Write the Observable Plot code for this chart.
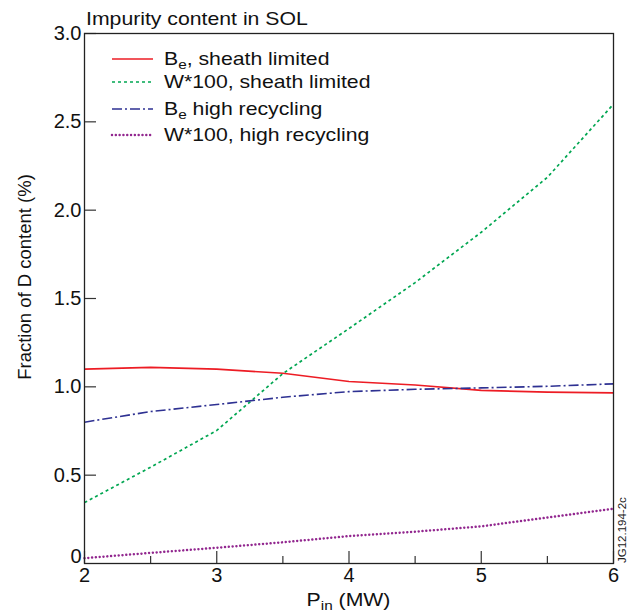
<!DOCTYPE html>
<html>
<head>
<meta charset="utf-8">
<script src="https://cdn.jsdelivr.net/npm/d3@7"></script>
<script src="https://cdn.jsdelivr.net/npm/@observablehq/plot@0.6"></script>
<style>
  html, body { margin: 0; padding: 0; background: #fff; }
  #chart { width: 627px; height: 613px; }
</style>
</head>
<body>
<div id="chart"></div>
<script>
// ---- data ----
const pin = [2, 2.5, 3, 3.5, 4, 4.5, 5, 5.5, 6];
const beSheath   = [1.10, 1.11, 1.10, 1.077, 1.03, 1.01, 0.98, 0.97, 0.966];
const wSheath    = [0.345, 0.545, 0.753, 1.075, 1.33, 1.59, 1.875, 2.186, 2.60];
const beRecycl   = [0.80, 0.86, 0.90, 0.941, 0.973, 0.986, 0.994, 1.003, 1.017];
const wRecycl    = [0.03, 0.06, 0.089, 0.12, 0.155, 0.18, 0.21, 0.26, 0.31];
const seriesNames = [
  ["B", "e", ", sheath limited"],
  ["W*100, sheath limited", "", ""],
  ["B", "e", " high recycling"],
  ["W*100, high recycling", "", ""]
];
const xMajorTicks = [2, 3, 4, 5, 6];
const xMinorTicks = [2.5, 3.5, 4.5, 5.5];
const yTicks = [0.5, 1.0, 1.5, 2.0, 2.5, 3.0];
const yZeroTick = [0];
const titleText = "Impurity content in SOL";
const yLabelText = "Fraction of D content (%)";
const xLabelParts = ["P", "in", " (MW)"];
const stampText = "JG12.194-2c";

// ---- styles ----
const styles = [
  {stroke: "#ed1c24", strokeWidth: 1.6, dash: null, cap: "butt"},
  {stroke: "#00a651", strokeWidth: 1.7, dash: "3,3", cap: "butt"},
  {stroke: "#2e3192", strokeWidth: 1.6, dash: "10,3,2,3", cap: "butt"},
  {stroke: "#92278f", strokeWidth: 2.5, dash: "0.01,3.8", cap: "round"}
];
const allSeries = [beSheath, wSheath, beRecycl, wRecycl];

const W = 627, H = 613;
const mL = 84, mR = 14, mT = 33, mB = 50;
const innerW = W - mL - mR, innerH = H - mT - mB;
const FONT = "'Liberation Sans', Arial, Helvetica, sans-serif";
const SX = 1.18; // horizontal stretch of the reference lettering

const lineMarks = allSeries.map((vals, i) => {
  const rows = pin.map((p, j) => ({x: p, y: vals[j]}));
  return Plot.line(rows, {
    x: "x", y: "y",
    stroke: styles[i].stroke,
    strokeWidth: styles[i].strokeWidth,
    strokeDasharray: styles[i].dash,
    strokeLinecap: styles[i].cap
  });
});

const chart = Plot.plot({
  width: W, height: H,
  marginLeft: mL, marginRight: mR, marginTop: mT, marginBottom: mB,
  style: {fontFamily: FONT, fontSize: "20px", color: "#111", background: "#fff"},
  x: {domain: [2, 6]},
  y: {domain: [0, 3]},
  marks: [
    ...lineMarks,
    Plot.ruleX(xMajorTicks, {x: d => d, insetTop: innerH - 12, stroke: "#333", strokeWidth: 1.2}),
    Plot.ruleX(xMinorTicks, {x: d => d, insetTop: innerH - 7, stroke: "#333", strokeWidth: 1.2}),
    Plot.ruleY(yTicks, {y: d => d, insetRight: innerW - 12, stroke: "#333", strokeWidth: 1.2}),
    Plot.axisX({ticks: xMajorTicks, tickSize: 0, tickPadding: 4, label: null, tickFormat: d => String(d), fontSize: 20}),
    Plot.axisY({ticks: yTicks, tickSize: 0, tickPadding: 3, label: null, tickFormat: d3.format(".1f"), fontSize: 20}),
    Plot.axisY({ticks: yZeroTick, tickSize: 0, tickPadding: 3, label: null, tickFormat: d => "0", dy: -7, fontSize: 20}),
    Plot.frame({stroke: "#222", strokeWidth: 1.3})
  ]
});

document.getElementById("chart").appendChild(chart);

// ---- annotations: title, axis labels with subscripts, legend ----
const svg = d3.select(chart);
const ann = svg.append("g").attr("font-family", FONT).attr("fill", "#111").attr("text-anchor", "start");

ann.append("text")
  .attr("transform", `translate(86,25) scale(${SX},1)`)
  .attr("text-anchor", "start")
  .attr("font-size", 18)
  .text(titleText);

ann.append("text")
  .attr("transform", "translate(31,277) rotate(-90)")
  .attr("text-anchor", "middle")
  .attr("font-size", 18.5)
  .text(yLabelText);

const xl = ann.append("text")
  .attr("transform", `translate(${mL + innerW / 2},606) scale(${SX},1)`)
  .attr("text-anchor", "middle")
  .attr("font-size", 18);
xl.append("tspan").text(xLabelParts[0]);
xl.append("tspan").attr("dy", 4).attr("font-size", 13).text(xLabelParts[1]);
xl.append("tspan").attr("dy", -4).text(xLabelParts[2]);

ann.append("text")
  .attr("transform", `translate(626,${mT + innerH}) rotate(-90)`)
  .attr("text-anchor", "start")
  .attr("font-size", 11.5)
  .attr("fill", "#222")
  .text(stampText);

// legend
const rowCenters = [59, 82, 109, 135];
const leg = svg.append("g").attr("font-family", FONT).attr("font-size", 18).attr("fill", "#111").attr("text-anchor", "start");
seriesNames.forEach((parts, i) => {
  const cy = rowCenters[i];
  leg.append("line")
    .attr("x1", 112).attr("x2", 153).attr("y1", cy).attr("y2", cy)
    .attr("stroke", styles[i].stroke)
    .attr("stroke-width", styles[i].strokeWidth)
    .attr("stroke-dasharray", styles[i].dash)
    .attr("stroke-linecap", styles[i].cap);
  const t = leg.append("text")
    .attr("transform", `translate(164,${cy + 6.4}) scale(${SX},1)`)
    .attr("text-anchor", "start");
  t.append("tspan").text(parts[0]);
  if (parts[1]) {
    t.append("tspan").attr("dy", 4).attr("font-size", 13).text(parts[1]);
    t.append("tspan").attr("dy", -4).text(parts[2]);
  }
});
</script>
</body>
</html>
